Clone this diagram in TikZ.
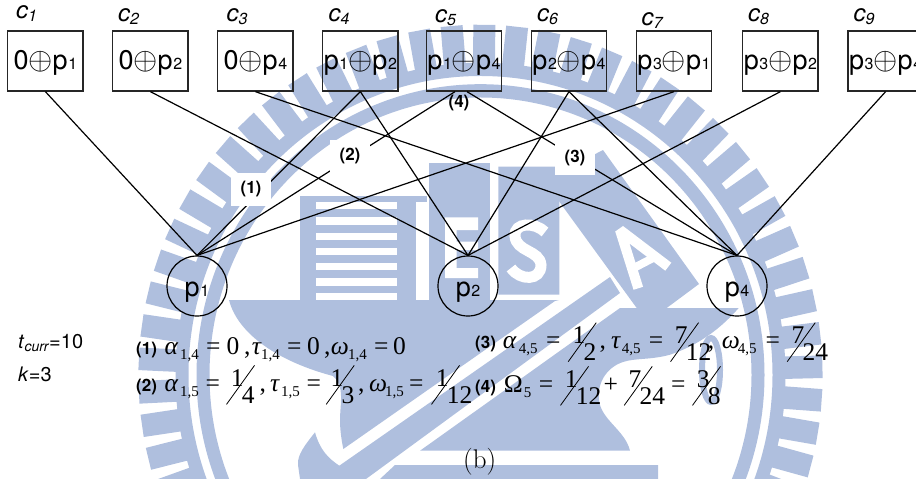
\documentclass[tikz,border=0pt]{standalone}
\usepackage{fontspec}
\newfontfamily\hv{TeX Gyre Heros}
\newfontfamily\tms{Liberation Serif}
\definecolor{wm}{HTML}{AFBFDE}
\newdimen\xo
\newcommand\zz[2]{\rlap{\kern\dimexpr#1pt-\xo\relax #2}}
\newcommand\lsub[1]{\raisebox{-5.5pt}{\fontsize{15}{15}\selectfont #1}}
\newcommand\frc[2]{\rlap{\raisebox{-13.6pt}{\rotatebox{54.3}{\rule{48pt}{.8pt}}}}\rlap{\kern4.7pt\raisebox{5pt}{#1}}\kern15.7pt\raisebox{-12.5pt}{#2}}
\newcommand\gk[1]{{\itshape #1}}
\newcommand\tag[1]{{\hv\bfseries\fontsize{17}{17}\selectfont #1}}
\newcommand\opl{\scalebox{1.25}{\fontsize{24.88}{24.88}\selectfont$\oplus$}}
\newcommand\psub[1]{p\kern.6pt{\fontsize{16}{16}\selectfont #1}}
\newcommand\clab[1]{{\hv\itshape\fontsize{24}{24}\selectfont c\raisebox{-3pt}{\fontsize{16}{16}\selectfont #1}}}
\tikzset{
  cbox/.style={draw=black!85,line width=1.3pt,rectangle,minimum width=75.4pt,minimum height=60pt,inner sep=0pt,
    font=\hv\fontsize{27}{27}\selectfont,text height=22pt,text depth=5.4pt},
  pc/.style={draw=black,line width=1.2pt,circle,minimum size=60pt,inner sep=0pt,
    font=\hv\fontsize{27}{27}\selectfont,text height=24pt,text depth=4pt},
  link/.style={draw=black,line width=1.2pt},
  note/.style={fill=white,minimum width=40pt,minimum height=33pt,inner sep=0pt,font=\hv\bfseries\fontsize{17}{17}\selectfont},
  plain/.style={inner sep=0pt,anchor=base west},
  eqn/.style={inner sep=0pt,anchor=base west,font=\tms\fontsize{25.5}{25.5}\selectfont},
}
\begin{document}
\begin{tikzpicture}[x=1pt,y=-1pt]
\clip (0,0) rectangle (916,479);
\useasboundingbox (0,0) rectangle (916,479);
% ---- watermark
\begin{scope}[shift={(480.5,375)},yscale=1.024]
  \fill[wm,even odd rule] (0,0) circle[radius=305pt] (0,0) circle[radius=292pt];
  \fill[wm,even odd rule] (0,0) circle[radius=284pt] (0,0) circle[radius=271pt];
  \foreach \k in {-5,...,37}{
    \pgfmathsetmacro\aa{1.35+5.5*\k}
    \fill[wm,rotate=\aa] (300,-11) rectangle (342,11);
  }
\end{scope}
% upper base
\fill[wm] (229,300) .. controls (238,335) and (280,362) .. (333,376)
  .. controls (345,385) and (340,405) .. (340,420)
  .. controls (340,432) and (342,442) .. (343.3,449) -- (555,301) -- (559,300) -- cycle;
% blade and band
\fill[wm] (315,432.3) .. controls (305,445) and (297,455) .. (298,465) -- (300,479) -- (366,479)
  -- (620,293) -- (610,277) -- (339.3,465.7) .. controls (328,458) and (320,450) .. (315,432.3) -- cycle;
% lower right region
\fill[wm] (420,450.7) -- (620,308) -- (738.7,308) .. controls (722,327) and (700,345) .. (669,355)
  .. controls (650,360) and (635,358) .. (623,362) .. controls (605,368) and (597,385) .. (599,400)
  .. controls (601,420) and (625,430) .. (630,450.7) -- cycle;
% bottom block
\fill[wm] (395,465) -- (658,465) -- (658,479) -- (380,479) -- cycle;
% T block with slats
\fill[wm] (300,195.7) rectangle (426.7,202.3);
\fill[wm] (300,195.7) rectangle (316,303);
\fill[wm] (397,195.7) rectangle (416,303);
\fill[wm] (316,209) rectangle (397,217);
\fill[wm] (316,225) rectangle (397,232.7);
\fill[wm] (316,240) rectangle (397,247.5);
\fill[wm] (316,255) rectangle (397,262.5);
\fill[wm] (316,270) rectangle (397,278);
\fill[wm] (316,285.5) rectangle (397,293.3);
% E block
\fill[wm] (428.5,162.7) rectangle (489.5,300);
\fill[white] (445,217.3) rectangle (456.7,278) (445,217.3) rectangle (478,230) (445,241.7) rectangle (478,250) (445,268) rectangle (478,278);
% S block
\fill[wm] (498.3,166.7) -- (555,166.7) -- (555,175) -- (559.3,175) -- (559.3,294.7) -- (498.3,294.7) -- cycle;
\draw[white,line width=11pt] (545,232) .. controls (535,222) and (514,222) .. (515,236)
  .. controls (516,252) and (540,250) .. (541,265) .. controls (541,281) and (520,281) .. (511,268);
% A block
\fill[wm] (603,150) -- (699,284) -- (666.7,308) -- (636.7,308) -- (559.3,201.7) -- (555,175) -- cycle;
\draw[white,line width=10pt,line join=bevel] (638.3,288.3) -- (620,230) -- (668.3,266.7);
\draw[white,line width=8pt] (635.7,267) -- (655,257);
% small 8
\draw[wm,line width=6pt] (711,370) ellipse[x radius=9pt,y radius=32pt];
% ---- nodes
\foreach \nm/\xc/\txt in {
  c1/45.4/{0\opl\psub{1}},
  c2/150.4/{0\opl\psub{2}},
  c3/255.4/{0\opl\psub{4}},
  c4/360.4/{\psub{1}\opl\psub{2}},
  c5/464/{\psub{1}\opl\psub{4}},
  c6/569/{\psub{2}\opl\psub{4}},
  c7/674/{\psub{3}\opl\psub{1}},
  c8/780.4/{\psub{3}\opl\psub{2}},
  c9/885.6/{\psub{3}\opl\psub{4}}}{
  \node[cbox] (\nm) at (\xc,61) {\txt};
}
\node[pc] (p1) at (197,286) {\psub{1}};
\node[pc] (p2) at (468,286) {\psub{2}};
\node[pc] (p4) at (737,286) {\psub{4}};
% ---- connectors
\draw[link] (c1.south) -- (p1.north);
\draw[link] (c4.south) -- (p1.north);
\draw[link] ([xshift=-9pt]c5.south) -- (p1.north);
\draw[link] (c7.south) -- (p1.north);
\draw[link] (c2.south) -- (p2.north);
\draw[link] (c4.south) -- (p2.north);
\draw[link] (c6.south) -- (p2.north);
\draw[link] (c8.south) -- (p2.north);
\draw[link] (c3.south) -- (p4.north);
\draw[link] ([xshift=3pt]c5.south) -- (p4.north);
\draw[link] (c6.south) -- (p4.north);
\draw[link] (c9.south) -- (p4.north);
% ---- white labels
\node[note] (n1) at (251,189.5) {(1)};
\node[note] (n2) at (350,156.5) {(2)};
\node[note] (n3) at (575,158.5) {(3)};
\node[inner sep=0pt,font=\hv\bfseries\fontsize{17}{17}\selectfont] (n4) at (459,103.5) {(4)};
% ---- c labels
\foreach \nm/\xx/\yy/\ss in {l1/16/18.3/1,l2/118/21.5/2,l3/226.5/21.5/3,l4/328.5/21.5/4,l5/435/22.5/5,l6/537/21.5/6,l7/641.5/25/7,l8/748/21/8,l9/853.5/21/9}{
  \node[plain] (\nm) at (\xx,\yy) {\clab{\ss}};
}
% ---- left notes
\node[plain,font=\hv\fontsize{20}{20}\selectfont] (tc) at (18,348.3) {\textit{t}\raisebox{-3pt}{\fontsize{14}{14}\selectfont\textit{curr}}=10};
\node[plain,font=\hv\fontsize{20}{20}\selectfont] (kk) at (18,381) {\textit{k}=3};
% ---- equations
\node[eqn] (e1) at (136,354) {\xo=136pt
  \zz{136}{\tag{(1)}}\zz{164.3}{\gk{α}}\zz{180}{\lsub{1,4}}\zz{206}{=}\zz{226.5}{0}\zz{244}{,}\zz{251.7}{\gk{τ}}\zz{261}{\lsub{1,4}}\zz{287}{=}\zz{307}{0}\zz{324}{,}\zz{330.7}{\gk{ω}}\zz{348}{\lsub{1,4}}\zz{374}{=}\zz{393}{0}\kern270pt};
\node[eqn] (e2) at (136,391) {\xo=136pt
  \zz{136}{\tag{(2)}}\zz{164.3}{\gk{α}}\zz{180}{\lsub{1,5}}\zz{205.5}{=}\zz{226}{\frc{1}{4}}\zz{259.3}{,}\zz{270}{\gk{τ}}\zz{281}{\lsub{1,5}}\zz{306.5}{=}\zz{325.7}{\frc{1}{3}}\zz{358}{,}\zz{369}{\gk{ω}}\zz{385}{\lsub{1,5}}\zz{409}{=}\zz{431}{\frc{1}{12}}\kern335pt};
\node[eqn] (e3) at (475,348.3) {\xo=475pt
  \zz{475}{\tag{(3)}}\zz{502.7}{\gk{α}}\zz{518.7}{\lsub{4,5}}\zz{546}{=}\zz{567.7}{\frc{1}{2}}\zz{599.3}{,}\zz{611}{\gk{τ}}\zz{621.7}{\lsub{4,5}}\zz{648.7}{=}\zz{670}{\frc{7}{12}}\zz{707.7}{,}\zz{721.7}{\gk{ω}}\zz{737.7}{\lsub{4,5}}\zz{765.3}{=}\zz{786.7}{\frc{7}{24}}\kern353pt};
\node[eqn] (e4) at (475,392) {\xo=475pt
  \zz{475}{\tag{(4)}}\zz{503.7}{Ω}\zz{523.7}{\lsub{5}}\zz{538.7}{=}\zz{560}{\frc{1}{12}}\zz{603.3}{+}\zz{623.7}{\frc{7}{24}}\zz{671}{=}\zz{692}{\frc{3}{8}}\kern245pt};
\node[plain,font=\fontsize{27}{27}\selectfont] (cap) at (463,468) {(b)};
\end{tikzpicture}
\end{document}
